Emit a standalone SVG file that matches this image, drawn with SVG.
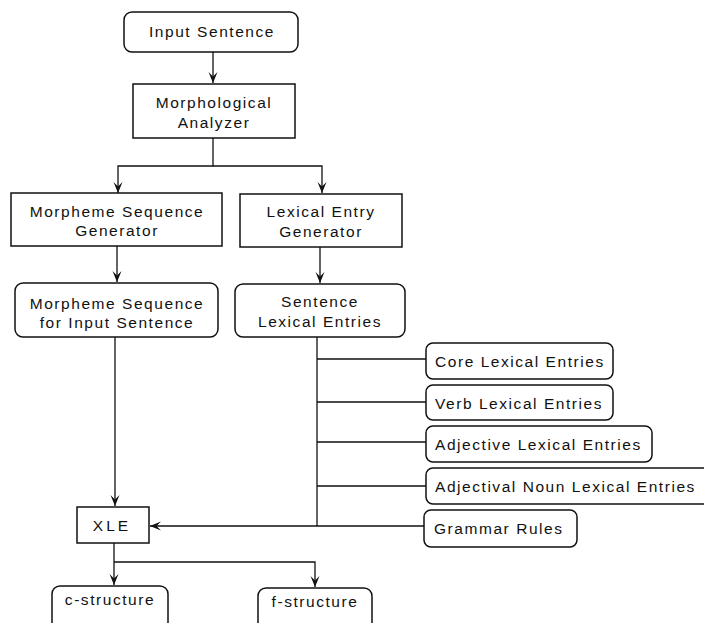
<svg xmlns="http://www.w3.org/2000/svg" width="704" height="623" viewBox="0 0 704 623">
<defs>
<marker id="ah" viewBox="-12 -6 13 12" refX="0" refY="0" markerWidth="13" markerHeight="12" markerUnits="userSpaceOnUse" orient="auto">
<path d="M0,0 L-11,-4.5 L-6.5,0 L-11,4.5 Z" fill="#111"/>
</marker>
<style>
.box{fill:#fff;stroke:#111;stroke-width:1.5}
.t{font-family:"Liberation Sans",Arial,sans-serif;font-size:15.5px;letter-spacing:1.55px;fill:#111;text-anchor:middle}
.tl{font-family:"Liberation Sans",Arial,sans-serif;font-size:15.5px;letter-spacing:1.55px;fill:#111;text-anchor:start}
.c{fill:none;stroke:#111;stroke-width:1.3}
</style>
</defs>
<rect width="704" height="623" fill="#fff"/>
<g id="connectors">
<path class="c" d="M213,52 V83" marker-end="url(#ah)"/>
<path class="c" d="M213,138 V166 H118 V193" marker-end="url(#ah)"/>
<path class="c" d="M213,166 H322 V193" marker-end="url(#ah)"/>
<path class="c" d="M117,246 V282" marker-end="url(#ah)"/>
<path class="c" d="M320,247 V283" marker-end="url(#ah)"/>
<path class="c" d="M115,337 V506" marker-end="url(#ah)"/>
<path class="c" d="M317,337 V526"/>
<path class="c" d="M317,359 H426 M317,402 H426 M317,442 H426 M317,486 H426"/>
<path class="c" d="M424,526 H150" marker-end="url(#ah)"/>
<path class="c" d="M114,543 V585" marker-end="url(#ah)"/>
<path class="c" d="M114,562 H315 V587" marker-end="url(#ah)"/>
</g>
<g id="input-sentence">
<rect class="box" x="124" y="12" width="174" height="40" rx="8"/>
<text class="t" x="212" y="37">Input Sentence</text>
</g>
<g id="morphological-analyzer">
<rect class="box" x="133" y="84" width="162" height="54"/>
<text class="t" x="214" y="108">Morphological</text>
<text class="t" x="214" y="128">Analyzer</text>
</g>
<g id="morpheme-sequence-generator">
<rect class="box" x="11" y="193" width="211" height="53"/>
<text class="t" x="117" y="217">Morpheme Sequence</text>
<text class="t" x="117" y="236">Generator</text>
</g>
<g id="lexical-entry-generator">
<rect class="box" x="240" y="194" width="162" height="53"/>
<text class="t" x="321" y="217">Lexical Entry</text>
<text class="t" x="321" y="237">Generator</text>
</g>
<g id="morpheme-sequence-input">
<rect class="box" x="15" y="283" width="203" height="54" rx="8"/>
<text class="t" x="117" y="309">Morpheme Sequence</text>
<text class="t" x="117" y="328">for Input Sentence</text>
</g>
<g id="sentence-lexical-entries">
<rect class="box" x="235" y="284" width="170" height="53" rx="8"/>
<text class="t" x="320" y="307">Sentence</text>
<text class="t" x="320" y="327">Lexical Entries</text>
</g>
<g id="core-lexical-entries">
<rect class="box" x="426" y="343" width="187" height="36" rx="7"/>
<text class="tl" x="435" y="367">Core Lexical Entries</text>
</g>
<g id="verb-lexical-entries">
<rect class="box" x="426" y="385" width="187" height="35" rx="7"/>
<text class="tl" x="435" y="409">Verb Lexical Entries</text>
</g>
<g id="adjective-lexical-entries">
<rect class="box" x="426" y="426" width="226" height="36" rx="7"/>
<text class="tl" x="435" y="450">Adjective Lexical Entries</text>
</g>
<g id="adjectival-noun-lexical-entries">
<rect class="box" x="426" y="468" width="284" height="36" rx="7"/>
<text class="tl" x="435" y="492">Adjectival Noun Lexical Entries</text>
</g>
<g id="grammar-rules">
<rect class="box" x="424" y="510" width="153" height="37" rx="7"/>
<text class="tl" x="434" y="534">Grammar Rules</text>
</g>
<g id="xle">
<rect class="box" x="77" y="507" width="72" height="36"/>
<text class="t" x="112" y="531" style="letter-spacing:3px">XLE</text>
</g>
<g id="c-structure">
<rect class="box" x="52" y="586" width="116" height="44" rx="8"/>
<text class="t" x="110" y="605">c-structure</text>
</g>
<g id="f-structure">
<rect class="box" x="258" y="588" width="114" height="44" rx="8"/>
<text class="t" x="315" y="607">f-structure</text>
</g>
</svg>
